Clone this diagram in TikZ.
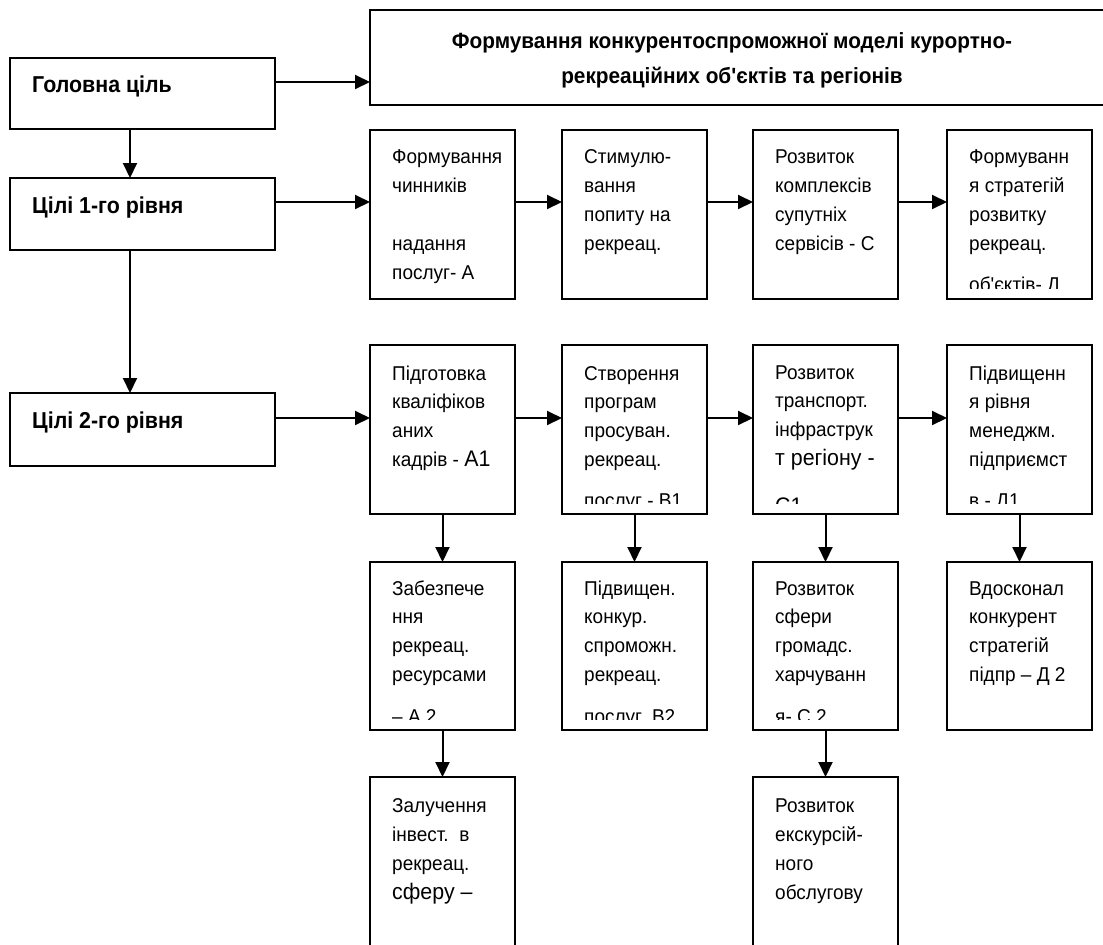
\documentclass[tikz,border=0pt]{standalone}
\usepackage{fontspec}
\setmainfont{Liberation Sans}[Ligatures=TeXOff,FakeStretch=0.95]
\newfontfamily\headfont{Liberation Sans}[Ligatures=TeXOff,FakeStretch=0.93]
\newfontfamily\topfont{Liberation Sans}[Ligatures=TeXOff,FakeStretch=0.945]
\usetikzlibrary{arrows.meta,calc}
\newcommand{\lns}[1]{\begin{tabular}[t]{@{}l@{}}#1\end{tabular}}
\newcommand{\bigt}[1]{{\fontsize{22.5}{28}\selectfont #1}}
% #1 box node, #2 text node name, #3 line pitch, #4 first baseline offset, #5 lines
\newcommand{\boxtxt}[5]{%
  \begin{scope}
    \clip ([xshift=1pt,yshift=-1pt]#1.north west) rectangle ([xshift=-1pt,yshift=11pt]#1.south east);
    \node[txt,font=\fontsize{20}{#3pt}\selectfont] (#2) at ($(#1.north west)+(22,#4)$) {\lns{#5}};
  \end{scope}}
\begin{document}
\begin{tikzpicture}[x=1pt,y=-1pt,
  box/.style={draw=black,line width=2pt,fill=none,outer sep=0pt,inner sep=0pt,anchor=north west},
  cell/.style={box,minimum width=145pt},
  arr/.style={draw=black,line width=2pt,-{Triangle[length=15pt,width=14pt]}},
  head/.style={font=\headfont\fontsize{23}{26}\selectfont\bfseries,anchor=base west,inner sep=0pt},
  txt/.style={anchor=base west,inner sep=0pt},
  toptxt/.style={font=\topfont\fontsize{22}{35}\selectfont\bfseries,anchor=base,inner sep=0pt}]
\useasboundingbox (0,0) rectangle (1103,945);
\clip (0,0) rectangle (1103,945);
\fill[white] (0,0) rectangle (1103,945);
% left column
\node[box,minimum width=265pt,minimum height=71pt] (L0) at (10,58) {};
\node[box,minimum width=265pt,minimum height=72pt] (L1) at (10,178) {};
\node[box,minimum width=265pt,minimum height=73pt] (L2) at (10,393) {};
\node[head] (tL0) at ($(L0.north west)+(22,34)$) {Головна ціль};
\node[head] (tL1) at ($(L1.north west)+(22,35)$) {Цілі 1-го рівня};
\node[head] (tL2) at ($(L2.north west)+(22,35)$) {Цілі 2-го рівня};
% top box
\node[box,minimum width=760pt,minimum height=95pt] (T) at (370,10) {};
\node[toptxt] (tT) at (732,48) {\begin{tabular}[t]{@{}c@{}}Формування конкурентоспроможної моделі курортно-\\рекреаційних об'єктів та регіонів\end{tabular}};
% row 1
\node[cell,minimum height=169pt] (A) at (370,130) {};
\node[cell,minimum height=169pt] (B) at (562,130) {};
\node[cell,minimum height=169pt] (C) at (753,130) {};
\node[cell,minimum height=169pt] (D) at (947,130) {};
% row 2
\node[cell,minimum height=169pt] (A1) at (370,345) {};
\node[cell,minimum height=169pt] (B1) at (562,345) {};
\node[cell,minimum height=169pt] (C1) at (753,345) {};
\node[cell,minimum height=169pt] (D1) at (947,345) {};
% row 3
\node[cell,minimum height=168pt] (A2) at (370,562) {};
\node[cell,minimum height=168pt] (B2) at (562,562) {};
\node[cell,minimum height=168pt] (C2) at (753,562) {};
\node[cell,minimum height=168pt] (D2) at (947,562) {};
% row 4
\node[cell,minimum height=200pt] (A3) at (370,777) {};
\node[cell,minimum height=200pt] (C3) at (753,777) {};
% texts
\boxtxt{A}{tA}{29}{33}{Формування\\чинників\\ \\надання\\послуг- А}
\boxtxt{B}{tB}{29}{33}{Стимулю-\\вання\\попиту на\\рекреац.}
\boxtxt{C}{tC}{29}{33}{Розвиток\\комплексів\\супутніх\\сервісів - С}
\boxtxt{D}{tD}{29}{33}{Формуванн\\я стратегій\\розвитку\\рекреац.\\[12pt]об'єктів- Д}
\boxtxt{A1}{tA1}{28.8}{35}{Підготовка\\кваліфіков\\аних\\кадрів - \bigt{А1}}
\boxtxt{B1}{tB1}{28.8}{35}{Створення\\програм\\просуван.\\рекреац.\\[12pt]послуг - В1}
\boxtxt{C1}{tC1}{28.8}{34}{Розвиток\\транспорт.\\інфраструк\\\bigt{т регіону -}\\[19pt]\bigt{С1}}
\boxtxt{D1}{tD1}{28.8}{35}{Підвищенн\\я рівня\\менеджм.\\підприємст\\[12pt]в - Д1}
\boxtxt{A2}{tA2}{28.8}{33}{Забезпече\\ння\\рекреац.\\ресурсами\\[13pt]– А 2}
\boxtxt{B2}{tB2}{28.8}{33}{Підвищен.\\конкур.\\спроможн.\\рекреац.\\[13pt]послуг. В2}
\boxtxt{C2}{tC2}{28.8}{33}{Розвиток\\сфери\\громадс.\\харчуванн\\[13pt]я- С 2}
\boxtxt{D2}{tD2}{28.8}{33}{Вдосконал\\конкурент\\стратегій\\підпр – Д 2}
\boxtxt{A3}{tA3}{29}{35}{Залучення\\інвест.\ \ в\\рекреац.\\\bigt{сферу –}}
\boxtxt{C3}{tC3}{29}{35}{Розвиток\\екскурсій-\\ного\\обслугову}
% arrows from left column
\coordinate (a0) at ([yshift=11.5pt]L0.east);
\coordinate (a1) at ([yshift=12pt]L1.east);
\coordinate (a2) at ([yshift=11.5pt]L2.east);
\draw[arr] (a0) -- (a0 -| T.west);
\draw[arr] (a1) -- (a1 -| A.west);
\draw[arr] (a2) -- (a2 -| A1.west);
\draw[arr] ([xshift=-12.5pt]L0.south) -- ([xshift=-12.5pt]L1.north);
\draw[arr] ([xshift=-12.5pt]L1.south) -- ([xshift=-12.5pt]L2.north);
% row arrows
\draw[arr] ([yshift=12.5pt]A.east) -- ([yshift=12.5pt]B.west);
\draw[arr] ([yshift=12.5pt]B.east) -- ([yshift=12.5pt]C.west);
\draw[arr] ([yshift=12.5pt]C.east) -- ([yshift=12.5pt]D.west);
\draw[arr] ([yshift=11.5pt]A1.east) -- ([yshift=11.5pt]B1.west);
\draw[arr] ([yshift=11.5pt]B1.east) -- ([yshift=11.5pt]C1.west);
\draw[arr] ([yshift=11.5pt]C1.east) -- ([yshift=11.5pt]D1.west);
% vertical arrows
\draw[arr] (A1.south) -- (A2.north);
\draw[arr] (B1.south) -- (B2.north);
\draw[arr] (C1.south) -- (C2.north);
\draw[arr] (D1.south) -- (D2.north);
\draw[arr] (A2.south) -- (A3.north);
\draw[arr] (C2.south) -- (C3.north);
\end{tikzpicture}
\end{document}
